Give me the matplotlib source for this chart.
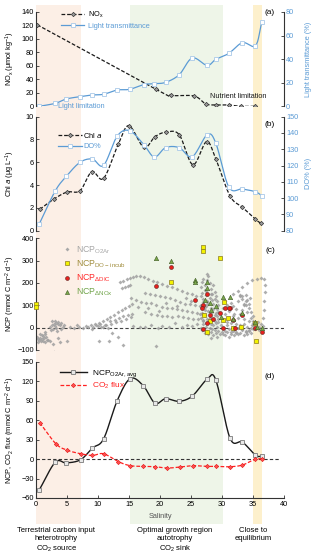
import numpy as np
import matplotlib
matplotlib.use("Agg")
import matplotlib.pyplot as plt
from matplotlib.lines import Line2D
from matplotlib.patches import Rectangle
from matplotlib.transforms import blended_transform_factory

plt.rcParams['font.family'] = ['Liberation Sans', 'DejaVu Sans']
plt.rcParams['font.size'] = 5.3
plt.rcParams['mathtext.default'] = 'regular'

# ---- data ----
# (a)
nox_sal = [0.2, 19.4, 21.7, 25.5, 27.4, 29.1, 31.1, 33.0, 35.4]
nox_val = [121, 25, 16.3, 15.3, 3.5, 2, 2, 0, 0]
lt_sal = [0.5, 3.1, 4.9, 7.1, 9.1, 10.9, 13.1, 15.1, 17.4, 19.1, 20.9, 23.1, 25.2, 27.6, 29.0, 31.1, 33.3, 35.4, 36.4]
lt_val = [0, 2.5, 6.2, 8.2, 9.6, 10.2, 13.8, 14.4, 18.4, 19.2, 20.3, 26.8, 41, 34.7, 39.8, 44.9, 54, 51.4, 71.2]

# (b)
chl_sal = [0.6, 2.9, 5.0, 7.1, 9.0, 10.9, 13.3, 15.0, 17.4, 19.2, 21.0, 23.1, 25.3, 27.5, 29.0, 31.3, 33.3, 35.4, 36.3]
chl_val = [1.87, 2.78, 3.39, 3.51, 5.18, 4.59, 7.63, 9.21, 7.31, 8.25, 8.65, 8.42, 5.79, 7.81, 6.29, 3.04, 2.05, 0.99, 0.64]
do_sal = lt_sal
do_val = [83.9, 104.4, 113.4, 122, 124, 120.1, 138.1, 141.4, 132.8, 125.2, 131, 131, 125.4, 138.9, 133.8, 106.8, 105.6, 103.9, 101.5]

# (c) NCP_O2Ar underway points
o2ar_sal = [
    0.2, 0.3, 0.4, 0.5, 0.6, 0.7, 0.8, 0.9, 1.0, 1.1, 1.2, 1.3, 1.4, 1.5, 1.5, 1.6, 1.7, 2.0,
    2.2, 2.4, 2.5, 2.6, 2.7, 2.9, 3.0, 3.1, 3.2, 3.3, 3.4, 3.5, 3.6, 3.8, 4.0, 4.1, 4.3, 4.5,
    2.3, 2.8, 2.9, 3.5, 3.8, 5.0,
    5.5, 6.2, 6.6, 7.0, 7.5, 8.0, 8.4, 8.8, 9.0, 9.2, 9.6, 10.0, 10.4, 10.8, 11.2, 11.6,
    9.5, 10.2, 10.8, 11.4, 12.0, 12.6, 13.2, 13.8, 14.4, 15.0, 15.5,
    10.5, 11.3, 12.1, 12.9, 13.7, 14.5, 15.3,
    12.0, 12.7, 13.4, 14.1, 14.8, 15.5,
    10.2, 11.7, 12.2, 13.2, 14.1, 19.4,
    13.5, 14.1, 14.6, 15.2, 15.7, 16.2, 16.8, 17.4, 18.1, 18.8, 19.5, 20.3, 21.1, 21.9, 22.7, 23.5, 24.3, 25.1, 25.8,
    13.9, 14.3, 14.8, 15.2,
    17.6, 18.4, 19.2, 20.0, 20.8, 21.6, 22.4, 23.2, 24.0, 24.8, 25.6, 26.4, 27.2,
    15.4, 16.2, 17.0, 17.8, 18.6, 19.4, 20.3, 21.1, 21.9, 22.7, 23.5, 24.3, 25.1, 25.9, 26.7,
    17.6, 18.6, 19.5, 20.3, 21.2, 22.0, 22.9, 23.7, 24.5, 25.4, 26.2, 27.0,
    15.6, 16.8, 17.6, 18.5, 19.6, 20.3, 21.5, 22.4, 23.5, 24.3, 25.1, 25.9,
    16.5, 18.0, 19.8, 21.0, 22.8, 24.2, 25.0,
    26.6, 26.8, 27.0, 27.2, 27.4, 27.6, 27.8, 28.0, 28.2, 28.4, 28.6, 28.8, 29.0, 29.2, 29.4,
    26.6, 26.8, 27.0, 27.2, 27.4, 27.6, 27.8, 28.0, 28.2, 28.4, 28.6, 28.8, 29.0, 29.2, 29.4,
    26.6, 26.8, 27.0, 27.2, 27.4, 27.6, 27.8, 28.0, 28.2, 28.4, 28.6, 28.8, 29.0, 29.2, 29.4,
    26.6, 26.8, 27.0, 27.2, 27.4, 27.6, 27.8, 28.0, 28.2, 28.4, 28.6, 28.8, 29.0, 29.2, 29.4,
    26.6, 26.8, 27.0, 27.2, 27.4, 27.6, 27.8, 28.0, 28.2, 28.4, 28.6, 28.8, 29.0, 29.2, 29.4,
    27.5, 28.3, 26.5, 29.6, 29.8, 30.0,
    30.2, 30.5, 30.8, 31.1, 31.4, 31.7, 32.0, 32.3, 32.6, 32.9, 33.2, 33.5, 33.8, 34.1, 34.4, 34.7, 35.0,
    30.2, 30.5, 30.8, 31.1, 31.4, 31.7, 32.0, 32.3, 32.6, 32.9, 33.2, 33.5, 33.8, 34.1, 34.4, 34.7, 35.0,
    30.2, 30.5, 30.8, 31.1, 31.4, 31.7, 32.0, 32.3, 32.6, 32.9, 33.2, 33.5, 33.8, 34.1, 34.4, 34.7, 35.0,
    30.2, 30.5, 30.8, 31.1, 31.4, 31.7, 32.0, 32.3, 32.6, 32.9, 33.2, 33.5, 33.8, 34.1, 34.4, 34.7, 35.0,
    32.9, 33.3, 33.8, 34.3, 34.5, 33.5,
    31.8, 32.5, 33.2, 34.0, 34.8, 35.6, 36.3, 36.8, 36.9, 36.9, 36.8, 36.7, 36.6,
    35.2, 35.5, 35.8, 36.0, 36.3, 35.4, 36.6, 35.9, 35.0, 34.8,
]
o2ar_ncp = [
    -40, -62, -50, -55, -30, -45, -60, -35, -52, -38, -58, -48, -30, -20, -62, -42, -55, -57,
    5, -12, 12, 30, -5, 18, 8, 28, 22, 0, -15, 15, 25, 10, -8, 20, 5, 12,
    -59, -75, -107, -45, -62, -58,
    2, -3, 10, 5, 0, 8, 3, 10, -5, 5, 12, 8, 15, 4, 10, -2,
    15, 22, 30, 40, 48, 58, 68, 78, 88, 97, 105,
    5, 10, 16, 24, 32, 40, 48,
    28, 35, 42, 50, 56, 62,
    -58, -58, -25, -40, -78, -84,
    203, 209, 218, 224, 228, 233, 233, 226, 218, 210, 203, 195, 188, 181, 173, 165, 157, 150, 143,
    178, 183, 186, 191,
    153, 150, 146, 142, 138, 131, 123, 115, 108, 104, 101, 97, 94,
    131, 123, 116, 112, 109, 101, 94, 90, 86, 82, 79, 75, 71, 67, 64,
    71, 62, 57, 53, 50, 49, 50, 46, 42, 40, 39, 35,
    8, 2, 4, 14, 0, 6, 3, 20, 4, 12, 8, 15,
    92, 88, 75, 110, 97, 135, 120,
    180, 205, 220, 190, 165, 215, 230, 200, 175, 150, 190, 160, 140, 120, 100,
    140, 155, 130, 170, 145, 120, 110, 135, 150, 125, 105, 130, 95, 85, 70,
    100, 90, 115, 80, 95, 105, 75, 60, 90, 70, 85, 55, 65, 50, 40,
    45, 60, 30, 55, 20, 40, 25, 45, 15, 35, 10, 30, 20, 5, 25,
    0, -10, 15, -25, 5, -15, -30, 0, -20, -5, -35, -10, -25, -40, -15,
    240, -45, 60, -30, 10, -20,
    90, 120, 100, 75, 110, 95, 60, 85, 120, 140, 130, 105, 145, 125, 90, 70, 50,
    40, 60, 25, 45, 20, 50, 35, 15, 45, 60, 80, 40, 100, 70, 30, 45, 20,
    0, -15, 10, -5, -20, 5, -10, -25, 0, 10, -5, 15, -15, 5, -10, 0, 10,
    -30, -35, -20, -40, -30, -15, -35, -20, -30, -25, -10, -35, -20, -30, -15, -25, -5,
    146, 140, 120, 108, 135, 102,
    150, 165, 180, 198, 212, 220, 222, 218, 190, 160, 120, 80, 45,
    20, 10, 25, 5, 15, -5, 8, -10, 30, 12,
]

doinc_sal = [0.0, 0.0, 21.7, 27.0, 27.0, 29.7, 27.1, 28.1, 27.5, 30.3, 30.2, 31.8, 35.5, 35.3, 33.0, 31.0]
doinc_ncp = [106, 91, 203, 362, 345, 310, 57, 28, -19, 116, 35, 0, -60, 20, 5, 45]
dic_sal = [19.4, 21.7, 25.6, 27.5, 27.0, 28.0, 27.5, 27.0, 29.7, 30.5, 31.3, 31.8, 32.1, 30.2, 33.2, 35.3, 36.4, 31.1, 28.6, 26.8]
dic_ncp = [187, 273, 124, 150, 101, 57, 19, -8, 64, 86, 86, 34, 0, 0, 57, 0, -18, 87, 40, 90]
dnox_sal = [19.4, 21.7, 25.6, 25.6, 27.5, 27.5, 30.2, 31.3, 28.0, 28.3, 33.2, 31.8, 29.9, 35.3, 35.6, 36.4, 27.2, 29.0]
dnox_ncp = [310, 300, 213, 203, 206, 176, 138, 138, 109, 79, 64, 41, 49, 27, 4, 0, 125, 95]

# (d)
ncpavg_sal = [0.5, 3.1, 4.9, 7.2, 9.1, 10.9, 13.1, 15.2, 17.3, 19.2, 20.9, 23.1, 25.2, 27.6, 29.0, 31.3, 33.3, 35.4, 36.4]
ncpavg_val = [-48, -5, -6, -1, 17, 31, 90, 124, 113, 86, 93, 89, 97, 123, 122, 32, 26, 6, 4]
co2_sal = [0.6, 3.2, 5.0, 7.2, 9.1, 10.9, 13.3, 15.2, 17.3, 19.2, 21.2, 23.2, 25.3, 27.5, 29.0, 31.3, 33.3, 35.4, 36.4]
co2_val = [56, 23.6, 13.8, 8.2, 5.6, 8.2, -4.1, -10.2, -11.3, -11.8, -13.8, -12.3, -10.2, -11.3, -11.3, -11.8, -9.2, 0, 0]

regions = [(0, 7.3, '#fcefe6'), (15.15, 30.2, '#eef5e8'), (35.05, 36.5, '#fdf0cc')]

BLUE = '#5b9bd5'
W, H = 320, 558


def smooth(x, y, n=16):
    # Catmull-Rom style smoothed line, like Excel's "smoothed line"
    x = np.asarray(x, float)
    y = np.asarray(y, float)
    px = np.concatenate([[2 * x[0] - x[1]], x, [2 * x[-1] - x[-2]]])
    py = np.concatenate([[2 * y[0] - y[1]], y, [2 * y[-1] - y[-2]]])
    t = np.linspace(0, 1, n, endpoint=False)
    xs, ys = [], []
    for i in range(1, len(px) - 2):
        for p, out in ((px, xs), (py, ys)):
            p0, p1, p2, p3 = p[i - 1], p[i], p[i + 1], p[i + 2]
            out.extend(0.5 * (2 * p1 + (-p0 + p2) * t + (2 * p0 - 5 * p1 + 4 * p2 - p3) * t ** 2
                              + (-p0 + 3 * p1 - 3 * p2 + p3) * t ** 3))
    xs.append(x[-1])
    ys.append(y[-1])
    return xs, ys


def add_panel(top, bottom):
    ax = fig.add_axes([36 / W, 1 - bottom / H, 248 / W, (bottom - top) / H])
    ax.set_facecolor('none')
    for sp in ['top', 'right', 'bottom']:
        ax.spines[sp].set_visible(False)
    ax.spines['left'].set_linewidth(0.8)
    ax.spines['left'].set_color('#333333')
    ax.set_xlim(0, 40)
    ax.set_xticks([])
    ax.tick_params(axis='y', direction='in', length=2, width=0.6, pad=1.5, color='#333333')
    return ax


def add_right(ax, color=BLUE):
    tw = ax.twinx()
    tw.set_facecolor('none')
    for sp in ['top', 'left', 'bottom']:
        tw.spines[sp].set_visible(False)
    tw.spines['right'].set_linewidth(0.8)
    tw.spines['right'].set_color('#333333')
    tw.tick_params(axis='y', direction='in', length=2, width=0.6, pad=1.5, colors=color)
    tw.tick_params(axis='y', color='#333333')
    return tw


fig = plt.figure(figsize=(W / 100, H / 100), dpi=100)
YLAB_X = -0.075

# ---------- (a) ----------
ax_a = add_panel(12, 106.3)
ax_a.set_ylim(0, 140)
ax_a.set_yticks(range(0, 141, 20))
xs, ys = smooth(nox_sal, nox_val)
ax_a.plot(xs, ys, color='#1a1a1a', lw=0.9, ls=(0, (3, 1.5)))
ax_a.plot(nox_sal, nox_val, ls='none', marker='D', ms=2.2, mfc='#9a9a9a', mec='#333333', mew=0.5)
ax_a.set_ylabel(r'NO$_x$ (μmol kg$^{-1}$)')
ax_a.yaxis.set_label_coords(YLAB_X, 0.5)
ta = add_right(ax_a)
ta.set_ylim(0, 80)
ta.set_yticks(range(0, 81, 20))
xs, ys = smooth(lt_sal, lt_val)
ta.plot(xs, ys, color=BLUE, lw=0.9)
ta.plot(lt_sal, lt_val, ls='none', marker='s', ms=2.6, mfc='white', mec='#a9c9e8', mew=0.6)
ta.set_ylabel('Light transmittance (%)', color=BLUE)
ta.yaxis.set_label_coords(1.085, 0.5)
ax_a.text(3.5, -1, 'Light limitation', color=BLUE, va='center', ha='left', clip_on=False)
ax_a.text(28.1, 14.3, 'Nutrient limitation', color='#1a1a1a', va='center', ha='left')
h1 = Line2D([], [], color='#1a1a1a', lw=0.9, ls=(0, (3, 1.5)), marker='D', ms=2.2, mfc='#9a9a9a', mec='#333333', mew=0.5)
h2 = Line2D([], [], color=BLUE, lw=0.9, marker='s', ms=2.6, mfc='white', mec='#a9c9e8', mew=0.6)
leg = ax_a.legend([h1, h2], [r'NO$_x$', 'Light transmittance'], loc='upper left',
                  bbox_to_anchor=(0.085, 1.06), frameon=False, handlelength=3.2,
                  handletextpad=0.5, labelspacing=0.35, borderpad=0)
leg.get_texts()[1].set_color(BLUE)

# ---------- (b) ----------
ax_b = add_panel(116.7, 230.7)
ax_b.set_ylim(0, 10)
ax_b.set_yticks(range(0, 11, 2))
xs, ys = smooth(chl_sal, chl_val)
ax_b.plot(xs, ys, color='#1a1a1a', lw=0.9, ls=(0, (3, 1.5)), zorder=3)
ax_b.plot(chl_sal, chl_val, ls='none', marker='D', ms=2.2, mfc='#9a9a9a', mec='#333333', mew=0.5, zorder=3)
ax_b.set_ylabel(r'Chl $\it{a}$ (μg L$^{-1}$)')
ax_b.yaxis.set_label_coords(YLAB_X, 0.5)
tb = add_right(ax_b)
tb.set_ylim(80, 150)
tb.set_yticks(range(80, 151, 10))
xs, ys = smooth(do_sal, do_val)
tb.plot(xs, ys, color=BLUE, lw=0.9)
tb.plot(do_sal, do_val, ls='none', marker='s', ms=2.6, mfc='white', mec='#a9c9e8', mew=0.6)
tb.set_ylabel('DO% (%)', color=BLUE)
tb.yaxis.set_label_coords(1.085, 0.5)
h1 = Line2D([], [], color='#1a1a1a', lw=0.9, ls=(0, (3, 1.5)), marker='D', ms=2.2, mfc='#9a9a9a', mec='#333333', mew=0.5)
h2 = Line2D([], [], color=BLUE, lw=0.9, marker='s', ms=2.6, mfc='white', mec='#a9c9e8', mew=0.6)
leg = ax_b.legend([h1, h2], [r'Chl $\it{a}$', 'DO%'], loc='upper left',
                  bbox_to_anchor=(0.075, 0.91), frameon=False, handlelength=3.2,
                  handletextpad=0.2, labelspacing=0.5, borderpad=0)
leg.get_texts()[1].set_color(BLUE)

# ---------- (c) ----------
ax_c = add_panel(238.3, 350)
ax_c.set_ylim(-100, 400)
ax_c.set_yticks(range(-100, 401, 100))
ax_c.axhline(0, color='#444444', lw=0.8, ls=(0, (3, 2)), zorder=1)
ax_c.scatter(o2ar_sal, o2ar_ncp, s=4, marker='D', color='#a0a0a0', alpha=0.85, lw=0, zorder=2)
ax_c.scatter(doinc_sal, doinc_ncp, s=9, marker='s', color='#f2f200', edgecolors='#8a7a20', lw=0.5, zorder=4, clip_on=False)
ax_c.scatter(dic_sal, dic_ncp, s=8, marker='o', color='#e8201c', edgecolors='#5a2020', lw=0.4, zorder=4)
ax_c.scatter(dnox_sal, dnox_ncp, s=10, marker='^', color='#7aa84a', edgecolors='#3f5a25', lw=0.4, zorder=4)
ax_c.set_ylabel(r'NCP (mmol C m$^{-2}$ d$^{-1}$)')
ax_c.yaxis.set_label_coords(YLAB_X, 0.5)
hs = [Line2D([], [], ls='none', marker='D', ms=2, color='#a8a8a8', mew=0),
      Line2D([], [], ls='none', marker='s', ms=3, mfc='#f2f200', mec='#8a7a20', mew=0.5),
      Line2D([], [], ls='none', marker='o', ms=2.8, mfc='#e8201c', mec='#5a2020', mew=0.4),
      Line2D([], [], ls='none', marker='^', ms=3, mfc='#7aa84a', mec='#3f5a25', mew=0.4)]
labs = [r'NCP$_{O2Ar}$', r'NCP$_{DO-incub}$', r'NCP$_{\Delta DIC}$', r'NCP$_{\Delta NOx}$']
leg = ax_c.legend(hs, labs, loc='upper left', bbox_to_anchor=(0.09, 0.985), frameon=False,
                  handlelength=1, handletextpad=0.5, labelspacing=0.3, borderpad=0, fontsize=6.3)
for t, c in zip(leg.get_texts(), ['#a6a6a6', '#a08c3c', '#ff2a2a', '#6fa348']):
    t.set_color(c)

# ---------- (d) ----------
ax_d = add_panel(361.7, 498)
ax_d.spines['bottom'].set_visible(True)
ax_d.spines['bottom'].set_linewidth(0.8)
ax_d.spines['bottom'].set_color('#333333')
ax_d.set_ylim(-60, 150)
ax_d.set_yticks(range(-60, 151, 30))
ax_d.set_xticks(range(0, 41, 5))
ax_d.tick_params(axis='x', direction='in', length=2, width=0.6, pad=2, color='#333333')
ax_d.axhline(0, xmax=0.985, color='#333333', lw=0.8, ls=(0, (3, 2)), zorder=1)
xs, ys = smooth(ncpavg_sal, ncpavg_val)
ax_d.plot(xs, ys, color='#1a1a1a', lw=1.0, zorder=3)
ax_d.plot(ncpavg_sal, ncpavg_val, ls='none', marker='s', ms=2.8, mfc='#e8e8e8', mec='#7a7a7a', mew=0.6, zorder=3)
xs, ys = smooth(co2_sal, co2_val)
ax_d.plot(xs, ys, color='#ff2020', lw=0.9, ls=(0, (3, 1.5)), zorder=3)
ax_d.plot(co2_sal, co2_val, ls='none', marker='D', ms=2.2, mfc='#ff5050', mec='#e01010', mew=0.4, zorder=3)
ax_d.set_ylabel(r'NCP, CO$_2$ flux (mmol C m$^{-2}$ d$^{-1}$)')
ax_d.yaxis.set_label_coords(YLAB_X, 0.5)
ax_d.set_xlabel('Salinity', color='#555555', labelpad=4)
h1 = Line2D([], [], color='#1a1a1a', lw=1.0, marker='s', ms=2.8, mfc='#e8e8e8', mec='#7a7a7a', mew=0.6)
h2 = Line2D([], [], color='#ff2020', lw=0.9, ls=(0, (3, 1.5)), marker='D', ms=2.2, mfc='#ff5050', mec='#e01010', mew=0.4)
leg = ax_d.legend([h1, h2], [r'NCP$_{O2Ar,avg}$', r'CO$_2$ flux'], loc='upper left',
                  bbox_to_anchor=(0.08, 0.985), frameon=False, handlelength=3.2,
                  handletextpad=0.6, labelspacing=0.3, borderpad=0, fontsize=6)
leg.get_texts()[1].set_color('#ff2020')

# panel letters
for lab, y in [('(a)', 13), ('(b)', 125), ('(c)', 251), ('(d)', 377)]:
    fig.text(270 / W, 1 - y / H, lab, ha='center', va='center', fontsize=6)

# shaded salinity regions through all panels
trans = blended_transform_factory(ax_d.transData, fig.transFigure)
for x0, x1, col in regions:
    fig.add_artist(Rectangle((x0, 1 - 524 / H), x1 - x0, (524 - 5) / H, transform=trans,
                             facecolor=col, edgecolor='none', zorder=-10))

# notes under the axis
notes = [(3.3, 'Terrestrial carbon input\nheterotrophy\nCO$_2$ source'),
         (22.4, 'Optimal growth region\nautotrophy\nCO$_2$ sink'),
         (35.0, 'Close to\nequilibrium')]
for sx, txt in notes:
    fig.text((36 + sx * 6.2) / W, 1 - 527 / H, txt, ha='center', va='top', fontsize=5.5, linespacing=1.25)

fig.savefig('out.png', dpi=100)
